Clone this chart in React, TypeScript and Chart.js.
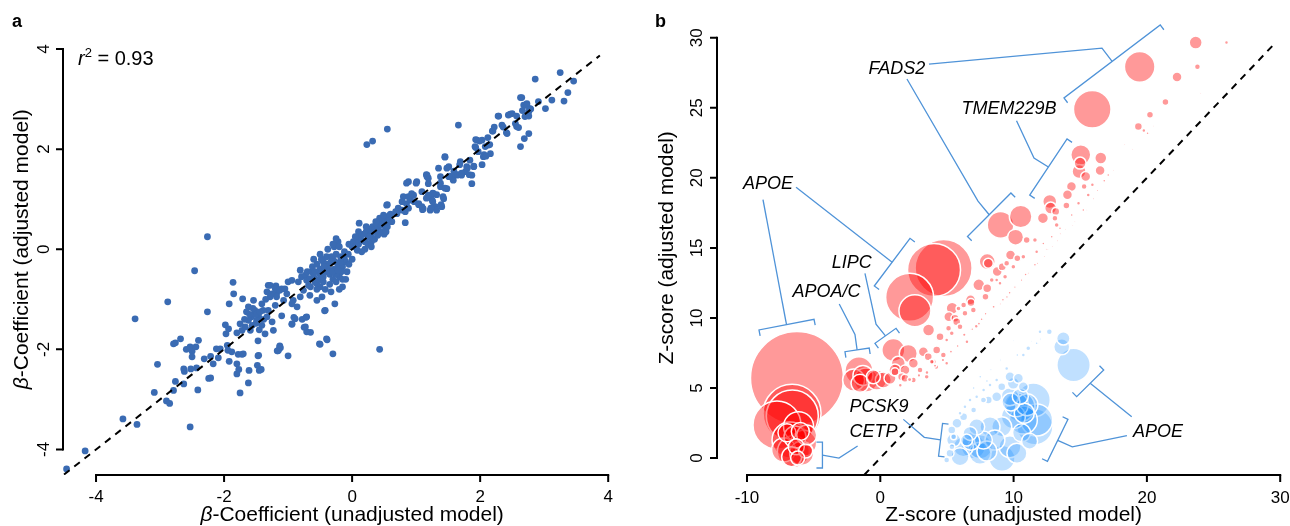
import React, { useEffect, useRef } from 'react';
import { Chart, registerables, BubbleController } from 'chart.js';

Chart.register(...registerables);

// Bubble controller that does not reserve layout padding for its largest bubble
class FlatBubbleController extends (BubbleController as any) {
  getMaxOverflow() { return 0; }
}
(FlatBubbleController as any).id = 'flatBubble';
(FlatBubbleController as any).defaults = (BubbleController as any).defaults;
(FlatBubbleController as any).overrides = (BubbleController as any).overrides;
Chart.register(FlatBubbleController as any);

const FONT = '"Liberation Sans", Arial, Helvetica, sans-serif';

// ---------- Panel a data ----------
const aTicks = [-4, -2, 0, 2, 4];
const aIdentity = [-4.5, 3.87];
const aR2 = '0.93';

// [beta unadjusted, beta adjusted]
const betaPairs: [number, number][] = [
  [-4.46,-4.39],[-4.17,-4.03],[-3.58,-3.39],[-3.36,-3.5],[-2.53,-3.55],[-3.09,-2.86],[-2.9,-3.03],[-2.85,-3.08],
  [-2.79,-2.82],[-2.76,-2.64],[-2.63,-2.69],[-2.41,-2.81],[-2.24,-2.58],[-2.21,-2.57],[-3.04,-2.3],[-2.79,-1.89],
  [-2.76,-1.87],[-2.68,-1.79],[-2.59,-2.0],[-2.53,-1.95],[-2.5,-2.04],[-2.5,-2.15],[-2.44,-1.95],[-2.4,-1.82],
  [-2.63,-2.39],[-2.62,-2.44],[-2.52,-2.39],[-2.43,-2.37],[-2.31,-2.19],[-2.21,-2.14],[-2.17,-2.29],[-2.09,-2.17],
  [-2.12,-1.99],[-2.06,-1.99],[-3.39,-1.39],[-2.88,-1.05],[-2.46,-0.43],[-2.26,-1.25],[-2.26,0.25],
  [-1.86,-0.66],[-1.85,-0.89],[-1.92,-1.09],[-1.98,-1.51],[-1.97,-1.69],[-1.95,-1.92],[-1.94,-2.02],[-1.92,-2.24],
  [-1.8,-2.29],[-1.8,-2.49],[-1.75,-2.87],[-1.62,-2.67],[-1.61,-2.42],[-1.78,-2.1],[-1.72,-2.1],[-1.48,-2.32],
  [-1.45,-2.42],[-1.46,-2.12],[-1.17,-2.03],[-1.12,-1.97],[-1.0,-2.13],[-0.43,-1.23],[-0.3,-2.09],[-0.39,-1.81],
  [-0.5,-1.9],[0.43,-2.0],[-0.27,-1.09],
  [-1.71,-0.99],[-1.62,-1.15],[-1.54,-1.02],[-1.65,-1.25],[-1.52,-1.29],[-1.57,-1.35],[-1.46,-1.35],[-1.49,-1.42],
  [-1.41,-1.09],[-1.33,-0.85],[-1.31,-0.72],[-1.19,-0.73],[-1.28,-0.95],[-1.2,-1.12],[-1.1,-0.79],[-1.07,-1.02],
  [-1.41,-1.52],[-1.33,-1.35],[-1.25,-1.45],[-1.23,-1.62],[-1.36,-1.69],[-1.47,-1.83],[-1.72,-1.62],[-1.67,-1.55],
  [-1.8,-1.67],[-1.59,-1.62],[-1.56,-1.52],[-1.45,-1.61],[-1.62,-1.42],[-1.31,-1.22],[-1.18,-0.89],[-1.93,-1.59],
  [-1.75,-1.49],[-1.52,-1.22],[-1.39,-1.22],[-0.65,-1.66],[-0.75,-1.56],[-0.72,-1.36],[-0.78,-1.4],[-0.94,-1.5],
  [-0.91,-1.36],[-1.16,-2.03],[-1.13,-1.93],[-1.1,-1.33],[-1.42,-2.4],[-1.47,-2.13],[-1.77,-2.4],
  [-1.5,-1.3],[-1.55,-1.18],[-1.44,-1.25],[-1.6,-1.3],[-1.38,-1.4],[-1.68,-1.4],[-1.5,-1.48],[-1.35,-1.0],
  [-1.28,-0.72],[-1.2,-0.79],[-1.25,-0.89],[-1.18,-0.95],[-1.13,-0.82],[-1.05,-0.79],[-1.0,-0.65],[-0.94,-0.62],
  [-1.02,-0.89],[-0.81,-0.42],[-0.79,-0.55],[-0.84,-0.65],[-0.73,-0.52],[-0.71,-0.62],[-0.66,-0.59],[-0.63,-0.45],
  [-0.6,-0.55],[-0.58,-0.65],[-0.55,-0.69],[-0.5,-0.75],[-0.68,-0.72],[-0.76,-0.82],[-0.81,-0.95],[-0.92,-1.02],
  [-0.86,-1.15],[-0.94,-1.09],[-0.55,-1.02],[-0.47,-0.95],[-0.42,-1.22],[-0.4,-1.79],[-0.51,-1.89],[-0.71,-1.65],
  [-0.73,-1.55],[-0.94,-1.49],[-0.89,-1.39],[-0.71,-1.35],[-0.66,-0.92],[-1.15,-2.02],[-1.13,-1.95],[-1.7,-2.09],
  [-1.88,-2.05],
  [-0.62,-0.35],[-0.55,-0.3],[-0.5,-0.4],[-0.45,-0.25],[-0.42,-0.45],[-0.38,-0.3],[-0.35,-0.5],[-0.3,-0.2],
  [-0.28,-0.4],[-0.25,-0.1],[-0.22,-0.3],[-0.2,-0.55],[-0.18,-0.15],[-0.15,-0.35],[-0.12,-0.05],[-0.1,-0.25],
  [-0.08,-0.45],[-0.32,-0.15],[-0.4,-0.15],[-0.48,-0.2],[-0.58,-0.45],[-0.52,-0.6],[-0.45,-0.65],[-0.35,-0.7],
  [-0.3,-0.6],[-0.25,-0.65],[-0.6,-0.2],[-0.5,-0.1],[-0.38,0.0],[-0.28,0.05],[-0.22,0.15],[-0.15,-0.6],
  [-0.05,-0.3],[-0.33,-0.85],[-0.55,-0.8],[-0.42,-0.8],[-0.65,-0.75],[-0.7,-0.45],[-0.2,-0.8],[-0.15,-0.75],
  [-0.1,-0.6],[-0.45,-0.55],[-0.36,-0.42],[-0.27,-0.25],[-0.17,-0.45],[-0.12,-0.2],[-0.06,-0.1],[0.0,-0.2],
  [-0.2,0.05],[-0.3,0.1],[-0.25,0.21],[0.0,0.05],[-0.05,0.1],[0.08,-0.02],
  [-0.4,-0.35],[-0.33,-0.25],[-0.26,-0.5],[-0.18,-0.25],[-0.44,-0.35],[-0.5,-0.5],[-0.3,-0.45],[-0.22,-0.42],
  [0.02,0.15],[0.05,0.05],[0.08,0.2],[0.1,0.1],[0.12,0.25],[0.15,0.18],[0.18,0.3],[0.2,0.15],
  [0.22,0.35],[0.25,0.25],[0.28,0.4],[0.3,0.3],[0.32,0.45],[0.35,0.38],[0.38,0.5],[0.4,0.42],
  [0.42,0.55],[0.45,0.5],[0.48,0.6],[0.5,0.55],[0.52,0.45],[0.55,0.65],[0.58,0.62],[0.6,0.7],
  [0.2,0.0],[0.25,0.1],[0.15,-0.05],[0.3,0.15],[0.35,0.2],[0.4,0.28],[0.1,0.35],[0.05,0.25],
  [0.22,0.45],[0.45,0.35],[0.5,0.3],[0.55,0.45],[0.3,0.05],[0.62,0.55],[0.55,0.89],[0.43,0.62],
  [0.56,0.55],[0.46,0.48],[0.49,0.68],[0.37,0.55],[0.11,0.52],[0.27,0.25],[0.4,0.31],[0.53,0.35],
  [0.83,0.53],[0.8,1.05],[0.85,0.91],[0.78,0.78],[0.91,0.98],[0.96,1.08],[0.88,1.35],[1.01,1.35],
  [1.04,0.91],[1.09,1.15],[1.11,0.81],[1.17,1.45],[1.19,1.31],[1.22,1.05],[1.25,0.98],[1.27,1.11],
  [1.3,0.85],[1.22,0.78],[1.32,0.78],[1.38,1.25],[1.4,0.85],[1.43,1.01],[1.48,1.21],[1.51,1.45],
  [1.38,1.45],[1.45,1.85],[1.51,1.65],[1.56,1.45],[1.58,1.38],[1.64,1.48],[1.69,1.75],[1.71,1.48],
  [1.66,2.48],[1.77,1.55],[1.84,1.78],[1.87,1.48],[1.79,1.65],[1.87,1.31],[1.9,1.65],[1.92,2.05],
  [1.95,2.18],[1.97,1.95],[2.03,2.18],[2.05,1.85],[2.08,2.05],[2.13,2.08],[2.16,1.91],[2.2,2.36],
  [2.29,2.66],[2.34,2.48],[2.42,2.31],[2.44,2.68],[2.5,2.71],[2.55,2.51],[2.57,2.45],[2.63,2.05],
  [2.65,3.03],[2.68,2.88],[2.7,2.65],[2.73,2.91],[2.76,2.75],[2.69,2.21],[2.76,2.31],[2.78,2.81],
  [2.86,3.4],[2.91,2.95],[3.02,2.81],[3.12,2.98],[3.25,3.53],[3.31,2.96],[3.37,3.13],[3.46,3.36],
  [2.63,3.03],[2.73,2.87],[2.79,2.8],[2.66,2.77],[2.76,2.66],[2.57,2.66],[2.6,2.43],[2.41,2.33],
  [2.28,2.66],[2.47,2.7],[2.36,2.44],[2.19,2.36],[2.22,2.44],[2.12,2.23],[2.15,2.09],[2.06,1.89],
  [2.09,1.86],[2.03,1.69],[1.99,2.16],[1.93,2.03],[1.93,2.19],[1.45,1.84],[1.83,1.49],[1.9,1.66],
  [1.8,1.62],[1.68,1.69],[1.65,1.49],[1.71,1.52],[1.59,1.56],[1.52,1.46],[1.42,1.05],[1.39,0.89],
  [1.26,0.95],[1.16,1.02],[1.1,0.79],[1.23,0.82],[1.32,1.09],[1.26,1.12],[1.45,1.22],[1.38,1.32],
  [1.48,1.62],[1.35,1.62],[1.19,1.42],[1.16,1.49],[1.0,1.32],[0.85,1.32],[0.88,1.05],[0.97,0.95],
  [1.04,0.89],[0.88,0.82],[0.78,0.95],[0.72,0.82],[0.68,0.75],[0.59,0.68],[0.55,2.4],[0.32,2.16],
  [0.23,2.09],[0.93,1.11],[0.83,0.75],[0.54,0.88],[0.59,0.58],[0.7,0.71],[1.17,1.48],[1.09,0.85],[1.19,1.08]
];

// ---------- Panel b data ----------
const bXTicks = [-10, 0, 10, 20, 30];
const bYTicks = [0, 5, 10, 15, 20, 25, 30];
const bIdentity = [-1.21, 29.6];

// [Z unadjusted, Z adjusted, marker size]
const redBubbles: [number, number, number][] = [
  [23.66,29.65,6.5],[25.97,29.65,2],[19.46,27.92,15.3],[22.26,27.2,5],[23.79,27.92,3],[15.9,24.89,18.8],
  [21.39,25.41,3.5],[20.23,24.5,3.5],[19.36,23.66,4],[19.77,23.37,2],[20.05,23.18,1.5],
  [15.04,21.64,10],[14.99,21.05,6],[16.54,21.41,6],[16.49,20.52,5],[14.91,20.45,7],[15.41,20.09,5],
  [15.29,19.38,3],[15.91,19.5,2],[14.34,19.38,5],[14.04,18.79,5],[13.96,18.02,3.5],[14.87,18.18,2],
  [15.6,18.77,2],[15.23,17.7,1.5],[14.36,17.34,1.5],
  [12.71,18.31,7],[12.78,17.84,6],[12.2,17.12,5.5],[13.16,17.59,4],[13.1,17.11,3],[13.23,16.63,2.5],[13.48,16.4,1.5],
  [9.02,16.64,13.3],[10.53,17.24,11.3],[10.15,15.76,8],[10.98,15.56,3.5],[11.6,15.56,2.5],[11.73,14.73,2],
  [12.86,15.8,1.5],[12.23,15.32,1.5],
  [8.02,14.02,8],[8.1,13.9,5],[8.77,13.31,5],[9.15,13.66,4],[9.77,14.5,5],[10.28,14.26,3.5],[10.73,14.37,2.5],
  [9.48,13.9,3],[9.98,13.66,2.5],[9.36,12.94,2.5],[8.98,12.47,2],
  [7.39,12.36,6],[8.02,12.12,4.5],[7.89,11.52,3.5],[6.77,11.29,5],[6.8,11.1,4],[6.25,10.92,3],[5.87,10.68,2.5],
  [6.98,10.56,3],[8.36,12.7,2.5],[8.73,12.7,2],
  [4.75,13.56,28.5],[4.03,13.42,26.5],[2.2,11.47,24],[2.6,10.51,16],[3.62,9.14,6],[4.48,8.66,4],[5.39,10.69,6],
  [5.14,10.09,5],[5.6,9.97,4],[5.73,9.73,4],[5.12,9.26,3],[5.98,9.37,3],[6.35,10.33,3],[5.36,8.9,2.5],[4.98,8.42,2],
  [-6.25,5.71,46.5],[-7.75,2.36,24],[-6.62,3.19,29],[-6.6,3.0,26],[-6.13,2.24,15],[-6.77,1.28,18],[-5.75,1.05,13],
  [-6.52,0.45,16],[-7.25,0.57,12],[-5.9,0.34,12],[-5.52,1.64,10],[-6.65,0.09,10],[-6.3,0.8,8],[-7.0,1.8,9],
  [-5.6,0.5,7],[-6.2,0.0,7],[-6.4,1.5,11],[-6.0,1.9,9],
  [-1.6,6.23,14],[-1.07,5.57,12],[-2.0,5.57,11],[-1.52,5.33,9],[-1.3,5.9,10],[-0.27,5.57,10],[0.23,5.57,8],[-0.52,5.8,7],
  [0.73,5.69,6],[1.1,6.16,4],[1.6,5.8,4],
  [0.98,7.71,11.5],[2.1,7.47,9],[1.35,6.76,7],[1.1,6.28,6],[1.85,6.28,5],[2.48,6.76,5],[1.85,5.69,4],
  [3.23,7.59,5],[3.6,7.23,4],[4.23,7.71,4],[3.98,6.87,3],[2.98,6.28,3],[4.73,7.35,3],[4.98,6.76,2],
  [3.48,5.8,2.5],[4.2,6.5,2.5],[2.48,5.57,3],[3.86,6.87,2.5],
  [6.5,8.3,2],[7.2,9.4,2],[7.6,9.9,1.5],[9.2,11.3,1.5],[9.7,11.8,1.5],[10.9,13.1,1.5],[11.6,13.8,1.5],
  [12.5,14.9,1.2],[13.5,16.0,1.2],[14.6,16.9,1],[16.8,19.8,1.5],[17.1,20.2,1.5],[18.3,22.4,1],[24.0,26.0,1],
  [1.5,5.2,2],[2.2,5.6,2.2],[2.9,5.9,1.8],[3.5,6.1,2],[4.1,6.6,1.6],[4.7,7.0,1.8],[5.3,7.6,1.6],[5.8,8.0,1.5],
  [6.3,8.8,1.8],[6.9,9.2,1.4],[7.4,9.6,1.6],[7.9,10.3,1.4],[8.5,10.8,1.6],[9.0,11.0,1.2],[9.5,11.5,1.4],
  [10.1,12.2,1.3],[10.6,12.7,1.3],[11.1,13.2,1.2],[11.8,13.9,1.2],[12.3,14.4,1.1],[12.9,15.1,1.1],[13.3,15.5,1.1],
  [13.9,16.3,1],[14.4,16.6,1],[15.5,17.7,1],[16.0,18.5,1.2],[16.3,19.1,1.2],[17.5,20.5,1],[18.9,22.0,1],[20.5,23.7,1]
];

const blueBubbles: [number, number, number][] = [
  [14.5,6.64,16.7],[13.73,8.54,6.7],[13.61,7.94,8],[12.68,9.02,3],[11.98,9.02,2],[11.1,7.83,2.5],[10.73,7.35,2],
  [10.28,7.35,1.5],[9.48,6.4,2],[11.73,8.19,1.5],[11.35,8.3,1],
  [11.6,2.23,18],[11.48,4.14,17],[11.73,2.71,16],[10.48,3.66,15],[10.73,2.71,14],[9.98,2.95,12],[9.11,2.23,10],
  [8.23,2.23,10],[7.23,2.23,8],[6.98,0.81,12],[6.23,0.81,10],[5.98,0.09,9],[7.48,0.34,11],[9.13,-0.02,13],
  [9.73,0.81,11],[8.6,1.28,10],[9.73,4.38,9],[9.98,5.33,6],[9.11,5.09,4],[8.73,4.38,5],[8.1,4.14,4],[7.73,4.14,3],
  [7.0,3.43,3],[6.25,2.95,4],[5.75,2.48,5],[5.36,2.0,4],[5.5,1.28,7],[7.73,1.28,9],[6.73,1.76,7],[6.48,1.28,6],
  [9.73,5.8,5],[10.36,5.69,5],[10.73,5.09,5],[10.25,0.34,10],
  [5.5,1.52,3],[5.37,0.81,3],[5.23,0.34,4],[4.98,-0.14,3],[5.98,3.19,2],[6.35,3.66,2],[6.73,4.14,2],[7.23,4.38,2],
  [7.75,4.85,2],[8.23,5.21,2],[8.73,5.57,2],
  [10.2,3.8,12],[10.8,3.2,10],[9.8,4.0,9],[10.5,4.4,8],[11.0,3.8,11],[6.8,1.2,9],[7.5,0.8,12],[8.0,0.5,10],
  [10.6,1.8,9],[11.2,1.2,8],
  [7.5,5.8,1.5],[8.3,6.3,1.2],[9.0,7.0,1.2],[8.0,5.5,1.5],[10.0,8.4,1],[7.0,5.0,1.5],[12.0,8.5,1.2]
];

type Pt = [number, number];
type Callout = { label: string; at: Pt; leaders: Pt[][]; brackets: { from: Pt; to: Pt; side: number }[] };

const callouts: Callout[] = [
  { label: 'FADS2', at: [1.25, 27.77],
    leaders: [[[3.65, 28.12], [16.63, 29.26]], [[2.0, 27.05], [7.33, 18.34]]],
    brackets: [{ from: [13.78, 25.7], to: [21.0, 30.91], side: 1 }, { from: [6.54, 15.81], to: [9.8, 18.92], side: 1 }] },
  { label: 'TMEM229B', at: [9.65, 24.91],
    leaders: [[[10.22, 24.07], [11.53, 21.41]]],
    brackets: [{ from: [11.21, 18.77], to: [14.01, 22.77], side: 1 }] },
  { label: 'APOE', at: [-8.43, 19.56],
    leaders: [[[-8.8, 18.44]], [[-6.32, 19.32]]],
    brackets: [{ from: [-9.1, 9.14], to: [-4.97, 9.9], side: 1 }, { from: [-0.45, 12.28], to: [2.23, 15.68], side: 1 }] },
  { label: 'LIPC', at: [-2.15, 13.9],
    leaders: [[[-1.15, 13.18], [-0.32, 9.56]]],
    brackets: [{ from: [-0.4, 8.19], to: [1.18, 9.26], side: 1 }] },
  { label: 'APOA/C', at: [-4.03, 11.85],
    leaders: [[[-3.08, 10.99], [-1.9, 8.83]]],
    brackets: [{ from: [-2.65, 7.59], to: [-0.83, 7.85], side: 1 }] },
  { label: 'PCSK9', at: [-0.1, 3.64],
    leaders: [[[1.73, 2.76], [3.3, 1.48]]],
    brackets: [{ from: [4.67, 2.47], to: [4.37, 0.13], side: -1 }] },
  { label: 'CETP', at: [-0.51, 1.86],
    leaders: [[[-1.7, 0.86], [-3.1, 0.0]]],
    brackets: [{ from: [-4.34, 1.14], to: [-4.34, -0.71], side: 1 }] },
  { label: 'APOE', at: [20.83, 1.86],
    leaders: [[[18.5, 1.6], [14.4, 0.8]], [[18.86, 2.95]]],
    brackets: [{ from: [14.08, 2.76], to: [12.54, -0.24], side: 1 }, { from: [16.76, 6.28], to: [14.73, 4.38], side: 1 }] }
];

// ---------- drawing helpers ----------
type Seg = { t: string; italic?: boolean; bold?: boolean; sup?: boolean };

function drawSegs(ctx: CanvasRenderingContext2D, segs: Seg[], x: number, y: number, size: number,
  align: 'left' | 'center', rot = 0) {
  ctx.save();
  ctx.translate(x, y);
  if (rot) ctx.rotate(rot);
  ctx.textAlign = 'left';
  ctx.textBaseline = 'alphabetic';
  ctx.fillStyle = '#000';
  const font = (s: Seg) =>
    `${s.italic ? 'italic ' : ''}${s.bold ? 'bold ' : ''}${s.sup ? Math.round(size * 0.65) : size}px ${FONT}`;
  const widths = segs.map((s) => { ctx.font = font(s); return ctx.measureText(s.t).width; });
  const total = widths.reduce((a, b) => a + b, 0);
  let cx = align === 'center' ? -total / 2 : 0;
  segs.forEach((s, i) => {
    ctx.font = font(s);
    ctx.fillText(s.t, cx, s.sup ? -size * 0.42 : 0);
    cx += widths[i];
  });
  ctx.restore();
}

type AxesCfg = {
  xTicks: number[]; yTicks: number[]; xTitle: Seg[]; yTitle: Seg[];
  tickSize: number; titleSize: number; xLabelY: number; yLabelGap: number;
  xTitleY: number; yTitleX: number; letter: string; letterX: number; letterY: number;
};

function makeAxesPlugin(cfg: AxesCfg) {
  return {
    id: 'rAxes',
    afterDraw(chart: any) {
      const { ctx, chartArea } = chart;
      const xs = chart.scales.x, ys = chart.scales.y;
      const px = (v: number) => xs.getPixelForValue(v);
      const py = (v: number) => ys.getPixelForValue(v);
      const bottom = chartArea.bottom, left = chartArea.left;
      const xl = cfg.xTicks[cfg.xTicks.length - 1], yl = cfg.yTicks[cfg.yTicks.length - 1];
      ctx.save();
      ctx.strokeStyle = '#000';
      ctx.lineWidth = 2;
      ctx.lineCap = 'square';
      ctx.beginPath();
      ctx.moveTo(px(cfg.xTicks[0]), bottom); ctx.lineTo(px(xl), bottom);
      ctx.moveTo(left, py(cfg.yTicks[0])); ctx.lineTo(left, py(yl));
      ctx.stroke();
      ctx.lineCap = 'butt';
      ctx.beginPath();
      cfg.xTicks.forEach((v) => { ctx.moveTo(px(v), bottom); ctx.lineTo(px(v), bottom + 7); });
      cfg.yTicks.forEach((v) => { ctx.moveTo(left, py(v)); ctx.lineTo(left - 7, py(v)); });
      ctx.stroke();
      ctx.fillStyle = '#000';
      ctx.font = `${cfg.tickSize}px ${FONT}`;
      ctx.textAlign = 'center';
      ctx.textBaseline = 'alphabetic';
      cfg.xTicks.forEach((v) => ctx.fillText(String(v), px(v), cfg.xLabelY));
      cfg.yTicks.forEach((v) => {
        ctx.save();
        ctx.translate(left - cfg.yLabelGap, py(v));
        ctx.rotate(-Math.PI / 2);
        ctx.fillText(String(v), 0, 0);
        ctx.restore();
      });
      const xc = (px(cfg.xTicks[0]) + px(xl)) / 2;
      drawSegs(ctx, cfg.xTitle, xc, cfg.xTitleY, cfg.titleSize, 'center');
      const yc = (py(cfg.yTicks[0]) + py(yl)) / 2;
      drawSegs(ctx, cfg.yTitle, cfg.yTitleX, yc, cfg.titleSize, 'center', -Math.PI / 2);
      drawSegs(ctx, [{ t: cfg.letter, bold: true }], cfg.letterX, cfg.letterY, 18, 'left');
      ctx.restore();
    }
  };
}

const r2Plugin = {
  id: 'r2',
  afterDraw(chart: any) {
    drawSegs(chart.ctx, [{ t: 'r', italic: true }, { t: '2', sup: true }, { t: ' = ' + aR2 }], 78, 65, 20, 'left');
  }
};

const calloutPlugin = {
  id: 'callouts',
  afterDraw(chart: any) {
    const { ctx } = chart;
    const xs = chart.scales.x, ys = chart.scales.y;
    const P = (p: Pt): Pt => [xs.getPixelForValue(p[0]), ys.getPixelForValue(p[1])];
    ctx.save();
    ctx.strokeStyle = '#4F93D8';
    ctx.lineWidth = 1.3;
    ctx.lineJoin = 'miter';
    callouts.forEach((c) => {
      c.brackets.forEach((b, i) => {
        const a = P(b.from), e = P(b.to);
        const dx = e[0] - a[0], dy = e[1] - a[1];
        const L = Math.hypot(dx, dy) || 1;
        const nx = (-dy / L) * b.side * 6, ny = (dx / L) * b.side * 6;
        ctx.beginPath();
        ctx.moveTo(a[0] + nx, a[1] + ny);
        ctx.lineTo(a[0], a[1]);
        ctx.lineTo(e[0], e[1]);
        ctx.lineTo(e[0] + nx, e[1] + ny);
        ctx.stroke();
        const mid: Pt = [(a[0] + e[0]) / 2, (a[1] + e[1]) / 2];
        const pts = c.leaders[i].map(P);
        ctx.beginPath();
        ctx.moveTo(pts[0][0], pts[0][1]);
        pts.slice(1).forEach((p) => ctx.lineTo(p[0], p[1]));
        ctx.lineTo(mid[0], mid[1]);
        ctx.stroke();
      });
      const [lx, ly] = P(c.at);
      ctx.font = `italic 18px ${FONT}`;
      ctx.textAlign = 'center';
      ctx.textBaseline = 'middle';
      ctx.fillStyle = '#000';
      ctx.fillText(c.label, lx, ly);
    });
    ctx.restore();
  }
};

const commonPlugins = { legend: { display: false }, tooltip: { enabled: false } };

function PanelA() {
  const ref = useRef<HTMLCanvasElement>(null);
  useEffect(() => {
    const chart = new Chart(ref.current as HTMLCanvasElement, {
      type: 'scatter',
      data: {
        datasets: [
          {
            type: 'line',
            data: aIdentity.map((v) => ({ x: v, y: v })),
            borderColor: '#000', borderWidth: 2, borderDash: [7, 6], pointRadius: 0, fill: false
          } as any,
          {
            data: betaPairs.map(([x, y]) => ({ x, y })),
            backgroundColor: '#3A6BB3', borderWidth: 0, pointRadius: 3.4
          }
        ]
      },
      options: {
        animation: false, responsive: false, devicePixelRatio: 1, events: [],
        layout: { padding: { left: 63, right: 19, top: 39, bottom: 51 } },
        scales: {
          x: { type: 'linear', display: false, min: -4.516, max: 4.2 },
          y: { type: 'linear', display: false, min: -4.51, max: 4.2 }
        },
        plugins: commonPlugins as any
      },
      plugins: [
        makeAxesPlugin({
          xTicks: aTicks, yTicks: aTicks,
          xTitle: [{ t: 'β', italic: true }, { t: '-Coefficient (unadjusted model)' }],
          yTitle: [{ t: 'β', italic: true }, { t: '-Coefficient (adjusted model)' }],
          tickSize: 17, titleSize: 21, xLabelY: 502, yLabelGap: 14, xTitleY: 521, yTitleX: 28,
          letter: 'a', letterX: 12, letterY: 27
        }),
        r2Plugin
      ]
    });
    return () => chart.destroy();
  }, []);
  return <canvas ref={ref} width={640} height={526} style={{ position: 'absolute', left: 0, top: 0 }} />;
}

function PanelB() {
  const ref = useRef<HTMLCanvasElement>(null);
  useEffect(() => {
    const bySize = (a: [number, number, number], b: [number, number, number]) => b[2] - a[2];
    const red = [...redBubbles].sort(bySize);
    const blue = [...blueBubbles].sort(bySize);
    const chart = new Chart(ref.current as HTMLCanvasElement, {
      type: 'bubble',
      data: {
        datasets: [
          {
            type: 'line',
            data: bIdentity.map((v) => ({ x: v, y: v })),
            borderColor: '#000', borderWidth: 2, borderDash: [7, 6], pointRadius: 0, fill: false
          } as any,
          {
            type: 'flatBubble',
            data: red.map(([x, y, r]) => ({ x, y, r })),
            backgroundColor: 'rgba(255,0,0,0.4)', borderColor: '#ffffff', borderWidth: 1.5, clip: false
          } as any,
          {
            type: 'flatBubble',
            data: blue.map(([x, y, r]) => ({ x, y, r })),
            backgroundColor: 'rgba(30,144,255,0.28)', borderColor: '#ffffff', borderWidth: 1.5, clip: false
          } as any
        ]
      },
      options: {
        animation: false, responsive: false, devicePixelRatio: 1, events: [],
        layout: { padding: { left: 77, right: 3, top: 23, bottom: 51 } },
        scales: {
          x: { type: 'linear', display: false, min: -12.25, max: 30.51 },
          y: { type: 'linear', display: false, min: -1.21, max: 31.05 }
        },
        plugins: commonPlugins as any
      },
      plugins: [
        makeAxesPlugin({
          xTicks: bXTicks, yTicks: bYTicks,
          xTitle: [{ t: 'Z-score (unadjusted model)' }],
          yTitle: [{ t: 'Z-score (adjusted model)' }],
          tickSize: 17, titleSize: 21, xLabelY: 503, yLabelGap: 15, xTitleY: 521, yTitleX: 33,
          letter: 'b', letterX: 15, letterY: 27
        }),
        calloutPlugin
      ]
    });
    return () => chart.destroy();
  }, []);
  return <canvas ref={ref} width={650} height={526} style={{ position: 'absolute', left: 640, top: 0 }} />;
}

export default function App() {
  return (
    <div style={{ position: 'absolute', left: 0, top: 0, width: 1290, height: 526, background: '#fff', overflow: 'hidden' }}>
      <PanelA />
      <PanelB />
    </div>
  );
}
